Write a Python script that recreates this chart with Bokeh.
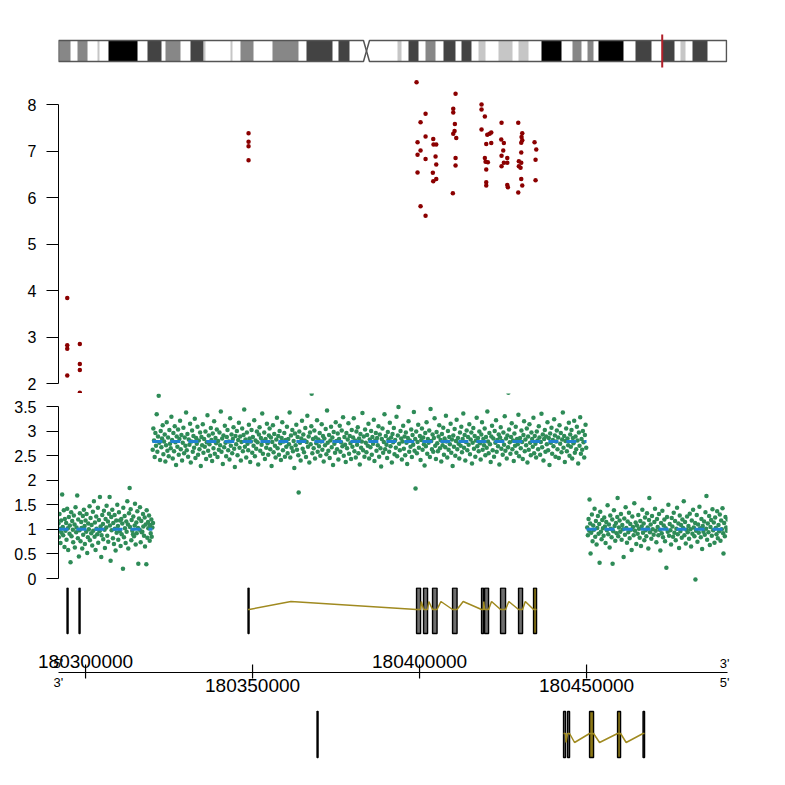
from bokeh.plotting import figure
from bokeh.layouts import column
from bokeh.models import Range1d, FixedTicker
from bokeh.core.properties import value
from bokeh.embed import file_html
from bokeh.resources import INLINE

# ====================== DATA ======================
# chr3 ideogram (Mb)
CHROM_LEN_MB = 199.6
CENTROMERE_MB = 92.03
band_start_mb = [0.0, 5.68, 11.65, 14.94, 26.59, 31.97, 39.44, 43.48, 51.39, 54.38, 63.94, 74.10, 83.66,
                 101.29, 104.58, 109.66, 115.04, 120.42, 125.50, 131.47, 137.45, 144.32, 153.58, 158.07,
                 161.35, 172.41, 180.48, 185.85, 189.44]
band_end_mb = [3.59, 8.67, 12.25, 23.61, 30.78, 36.45, 43.33, 43.92, 51.99, 58.27, 71.71, 81.87, 86.95,
               102.49, 107.57, 112.65, 118.62, 123.40, 127.59, 135.66, 140.44, 150.30, 156.27, 159.86,
               168.82, 177.19, 184.06, 187.35, 193.92]
band_stain = ["gpos50", "gpos50", "gpos25", "gpos100", "gpos75", "gpos50", "gpos75", "gpos25", "gpos25",
              "gpos50", "gpos50", "gpos75", "gpos75",
              "gpos25", "gpos75", "gpos50", "gpos75", "gpos75", "gpos25", "gpos25", "gpos25", "gpos100",
              "gpos50", "gpos50",
              "gpos100", "gpos75", "gpos75", "gpos25", "gpos75"]

REGION_START = 180291900
REGION_END = 180492200

# upper panel points (position bp, value)
red_points = [
    (180294520, 3.84), (180294520, 2.82), (180294520, 2.75), (180294520, 2.17),
    (180298290, 2.85), (180298290, 2.42), (180298290, 2.29), (180298290, 1.80),
    (180348800, 7.38), (180348800, 7.20), (180348800, 7.10), (180348800, 6.80),
    (180399100, 8.48), (180400300, 7.62), (180401800, 7.80), (180399400, 7.19), (180400300, 7.01),
    (180399400, 6.92), (180401800, 7.31), (180401800, 6.83), (180399400, 6.54), (180400300, 5.81),
    (180401800, 5.61),
    (180404100, 7.26), (180404190, 7.14), (180405000, 7.14), (180404790, 6.88), (180405000, 6.71),
    (180403980, 6.53), (180405000, 6.40), (180404100, 6.35),
    (180410780, 8.23), (180410090, 7.91), (180410090, 7.83), (180410570, 7.58), (180410480, 7.43),
    (180410090, 7.37), (180410990, 7.28), (180410780, 6.85), (180410780, 6.69), (180409970, 6.09),
    (180418560, 8.00), (180418560, 7.89), (180419550, 7.74), (180418560, 7.46), (180420270, 7.35),
    (180421470, 7.40), (180420960, 7.37), (180419970, 7.15), (180421470, 7.17), (180419550, 6.85),
    (180419760, 6.77), (180420450, 6.76), (180419970, 6.60), (180419970, 6.33), (180419970, 6.26),
    (180424550, 7.61), (180424460, 7.25), (180425240, 7.17), (180425060, 7.01), (180424550, 6.90),
    (180426260, 6.85), (180425240, 6.75), (180426260, 6.75), (180424550, 6.67), (180426260, 6.27),
    (180426440, 6.22),
    (180429550, 7.61), (180430750, 7.38), (180430540, 7.30), (180430750, 7.23), (180430450, 7.18),
    (180430450, 6.97), (180429730, 6.78), (180430450, 6.75), (180429730, 6.67), (180430240, 6.64),
    (180430450, 6.40), (180430750, 6.26), (180429550, 6.11),
    (180434430, 7.19), (180434940, 7.03), (180434730, 6.81), (180434730, 6.37),
]

# copy-number probes: (position in 100 bp above 180,290,000 ; value x 100)
PROBE_ORIGIN = 180290000
cn_seg1 = [
    (17,96),(19,112),(20,84),(22,131),(24,101),(25,72),(27,118),(28,93),(30,171),(32,105),
    (33,88),(35,139),(37,64),(38,121),(40,97),(42,113),(43,79),(45,142),(47,102),(48,58),
    (50,125),(52,91),(53,108),(55,33),(57,135),(58,86),(60,117),(62,99),(63,74),(65,128),
    (67,110),(68,63),(70,145),(72,94),(73,104),(75,169),(77,82),(78,120),(80,45),(82,98),
    (83,133),(85,76),(87,115),(88,103),(90,61),(92,127),(93,89),(95,140),(97,107),(98,70),
    (100,118),(102,95),(103,131),(105,52),(107,84),(108,112),(110,100),(112,147),(113,78),(115,123),
    (117,92),(118,109),(120,67),(122,136),(123,97),(125,157),(127,85),(128,114),(130,58),(132,126),
    (133,101),(135,90),(137,144),(138,73),(140,119),(142,96),(143,166),(145,106),(147,44),(148,88),
    (150,129),(152,111),(153,80),(155,138),(157,99),(158,62),(160,121),(162,104),(163,148),(165,87),
    (167,116),(168,75),(170,132),(172,166),(173,108),(175,36),(177,125),(178,98),(180,140),(182,82),
    (183,113),(185,70),(187,129),(188,101),(190,57),(192,118),(193,93),(195,150),(197,107),(198,79),
    (200,135),(202,96),(203,118),(205,66),(207,121),(208,90),(210,112),(212,20),(213,144),(215,84),
    (217,127),(218,102),(220,72),(222,116),(223,95),(225,157),(227,110),(228,61),(230,133),(232,184),
    (233,105),(235,141),(237,78),(238,119),(240,97),(242,90),(243,126),(245,86),(247,108),(248,152),
    (250,69),(252,114),(253,92),(255,137),(257,103),(258,30),(260,122),(262,99),(263,145),(265,74),
    (267,117),(268,94),(270,95),(272,131),(273,106),(275,87),(277,124),(278,65),(280,110),(282,29),
    (283,139),(285,83),(287,115),(288,102),(290,128),(292,77),(293,109),(295,92),(297,120),(298,85),
    (300,104),(302,113),
]
cn_seg2 = [
    (301,262),(303,305),(305,281),(307,247),(309,296),(311,270),(313,334),(315,258),(317,289),(319,372),(321,276),(323,241),(325,300),(327,267),(329,285),(331,312),(333,253),(335,279),(337,293),(339,238),(341,271),(343,318),(345,260),(347,287),(349,249),
    (351,302),(353,274),(355,265),(357,329),(359,282),(361,244),(363,296),(365,259),(367,310),(369,277),(371,231),(373,289),(375,268),(377,303),(379,252),(381,284),(383,321),(385,263),(387,292),(389,240),(391,276),(393,307),(395,255),(397,287),(399,270),
    (401,338),(403,261),(405,294),(407,248),(409,283),(411,272),(413,315),(415,236),(417,279),(419,301),(421,258),(423,290),(425,266),(427,325),(429,245),(431,286),(433,274),(435,309),(437,252),(439,281),(441,263),(443,297),(445,229),(447,288),(449,271),
    (451,314),(453,256),(455,284),(457,268),(459,299),(461,243),(463,277),(465,332),(467,260),(469,291),(471,273),(473,250),(475,306),(477,282),(479,239),(481,295),(483,265),(485,320),(487,254),(489,286),(491,275),(493,303),(495,247),(497,280),(499,262),
    (501,297),(503,271),(505,340),(507,258),(509,285),(511,233),(513,291),(515,267),(517,311),(519,276),(521,249),(523,288),(525,302),(527,261),(529,279),(531,242),(533,326),(535,270),(537,293),(539,255),(541,284),(543,308),(545,264),(547,227),(549,290),
    (551,273),(553,300),(555,251),(557,282),(559,317),(561,266),(563,289),(565,240),(567,278),(569,305),(571,259),(573,292),(575,344),(577,268),(579,283),(581,246),(583,297),(585,274),(587,261),(589,313),(591,285),(593,237),(595,279),(597,302),(599,256),
    (601,288),(603,270),(605,322),(607,249),(609,281),(611,264),(613,299),(615,277),(617,232),(619,293),(621,308),(623,260),(625,286),(627,272),(629,336),(631,254),(633,280),(635,297),(637,243),(639,284),(641,266),(643,315),(645,275),(647,252),(649,291),
    (651,305),(653,263),(655,287),(657,229),(659,278),(661,312),(663,257),(665,294),(667,270),(669,246),(671,283),(673,327),(675,265),(677,290),(679,252),(681,300),(683,275),(685,241),(687,286),(689,318),(691,261),(693,279),(695,296),(697,248),(699,282),
    (701,268),(703,309),(705,255),(707,284),(709,273),(711,338),(713,246),(715,291),(717,266),(719,302),(721,259),(723,280),(725,225),(727,295),(729,271),(731,313),(733,262),(735,288),(737,251),(738,175),(740,299),(742,276),(744,240),(746,285),(748,321),
    (750,264),(752,293),(754,257),(756,281),(758,306),(760,247),(762,278),(764,331),(766,268),(768,289),(770,236),(772,297),(774,273),(776,310),(777,376),(779,255),(781,284),(783,265),(785,301),(787,244),(789,287),(791,275),(793,322),(795,258),(797,283),(799,269),
    (801,296),(803,250),(805,279),(807,314),(809,262),(811,290),(813,238),(815,285),(817,271),(819,304),(821,253),(823,342),(825,276),(827,260),(829,292),(831,245),(833,281),(835,309),(837,267),(839,287),(841,231),(843,298),(845,274),(847,256),(849,318),
    (851,280),(853,263),(855,295),(857,242),(859,284),(861,311),(863,258),(865,277),(867,301),(869,269),(871,328),(873,250),(875,288),(877,272),(879,237),(881,296),(883,265),(885,283),(887,316),(889,254),(891,290),(893,275),(895,243),(897,302),(899,268),
    (901,287),(903,326),(905,259),(907,281),(909,246),(911,299),(913,272),(915,308),(917,255),(919,285),(921,232),(923,294),(925,266),(927,279),(929,337),(931,261),(933,289),(935,248),(937,303),(939,276),(941,257),(943,292),(945,270),(947,315),(949,244),
    (951,283),(953,267),(955,300),(957,252),(959,288),(961,274),(963,323),(965,239),(967,281),(969,296),(971,260),(973,286),(975,271),(977,310),(979,248),(981,293),(983,265),(985,228),(987,284),(989,305),(991,256),(993,278),(995,334),(997,263),(999,290),
    (1001,272),(1003,245),(1005,298),(1007,283),(1009,258),(1011,317),(1013,269),(1015,287),(1017,236),(1019,294),(1021,277),(1023,306),(1025,253),(1027,282),(1029,266),(1031,329),(1033,249),(1035,291),(1037,349),(1039,274),(1041,261),(1043,300),(1045,285),(1047,242),(1049,279),
    (1051,311),(1053,264),(1055,289),(1057,251),(1059,297),(1061,276),(1063,233),(1065,286),(1067,320),(1069,258),(1071,281),(1073,268),(1075,303),(1077,247),(1079,292),(1081,272),(1083,339),(1085,260),(1087,284),(1088,183),(1090,299),(1092,255),(1094,278),(1096,313),(1098,266),
    (1101,290),(1103,241),(1105,282),(1107,305),(1109,262),(1111,287),(1113,273),(1115,230),(1117,296),(1119,269),(1121,318),(1123,254),(1125,284),(1127,276),(1129,301),(1131,247),(1133,345),(1135,280),(1137,263),(1139,293),(1141,258),(1143,286),(1145,326),(1147,270),(1149,243),
    (1151,298),(1153,275),(1155,259),(1157,289),(1159,312),(1161,265),(1163,282),(1165,238),(1167,294),(1169,271),(1171,307),(1173,252),(1175,285),(1177,267),(1179,331),(1181,279),(1183,246),(1185,300),(1187,262),(1189,288),(1191,273),(1193,315),(1195,256),(1197,283),(1199,229),
    (1201,291),(1203,268),(1205,304),(1207,250),(1209,280),(1211,323),(1213,263),(1215,286),(1217,274),(1219,244),(1221,297),(1223,270),(1225,309),(1227,257),(1229,284),(1231,336),(1233,266),(1235,292),(1237,240),(1239,278),(1241,301),(1243,261),(1245,288),(1247,272),(1249,314),
    (1251,253),(1253,283),(1255,297),(1257,234),(1259,276),(1261,306),(1263,264),(1265,290),(1267,248),(1269,281),(1271,327),(1273,269),(1275,286),(1277,259),(1279,299),(1281,275),(1283,242),(1285,293),(1287,318),(1289,262),(1291,284),(1293,271),(1295,305),(1297,251),(1299,288),
    (1301,266),(1303,340),(1305,279),(1307,255),(1309,296),(1311,273),(1313,237),(1315,289),(1317,311),(1319,261),(1321,285),(1323,248),(1325,300),(1327,276),(1329,322),(1331,258),(1333,282),(1335,269),(1337,293),(1339,232),(1341,287),(1343,308),(1345,264),(1347,280),(1349,252),
    (1351,297),(1353,272),(1355,330),(1357,260),(1359,285),(1361,244),(1363,291),(1365,267),(1366,378),(1368,303),(1370,277),(1372,254),(1374,288),(1376,316),(1378,263),(1380,281),(1382,239),(1384,295),(1386,270),(1388,309),(1390,256),(1392,284),(1394,273),(1396,333),(1398,249),
    (1401,286),(1403,265),(1405,301),(1407,278),(1409,243),(1411,292),(1413,320),(1415,259),(1417,283),(1419,271),(1421,305),(1423,236),(1425,289),(1427,262),(1429,314),(1431,276),(1433,251),(1435,297),(1437,284),(1439,268),(1441,327),(1443,255),(1445,290),(1447,274),(1449,246),
    (1451,299),(1453,281),(1455,263),(1457,310),(1459,287),(1461,252),(1463,278),(1465,335),(1467,267),(1469,293),(1471,240),(1473,284),(1475,302),(1477,258),(1479,289),(1481,273),(1483,318),(1485,261),(1487,286),(1489,231),(1491,295),(1493,276),(1495,307),(1497,254),(1499,282),
    (1501,269),(1503,324),(1505,291),(1507,248),(1509,279),(1511,301),(1513,263),(1515,287),(1517,245),(1519,312),(1521,274),(1523,296),(1525,257),(1527,283),(1529,338),(1531,266),(1533,290),(1535,237),(1537,280),(1539,305),(1541,259),(1543,285),(1545,271),(1547,317),(1549,250),
    (1551,293),(1553,268),(1555,302),(1557,244),(1559,286),(1561,275),(1563,321),(1565,256),(1567,289),(1569,263),(1571,309),(1573,281),(1575,234),(1577,297),(1579,270),(1581,328),(1583,254),(1585,284),(1587,262),(1589,300),(1591,277),(1593,246),(1595,292),(1597,313),(1599,266),
]
cn_seg3 = [
    (1602,104),(1604,88),(1606,121),(1608,97),(1609,161),(1611,112),(1612,51),(1614,93),(1616,130),(1618,76),(1620,108),(1622,99),(1624,142),(1626,85),(1628,117),(1630,69),(1632,103),(1634,127),(1636,91),(1638,111),(1639,32),(1641,136),(1643,95),(1645,80),(1647,119),(1649,102),
    (1651,87),(1653,124),(1655,106),(1657,72),(1659,115),(1661,98),(1663,149),(1665,90),(1667,110),(1669,63),(1671,128),(1673,101),(1675,84),(1677,120),(1678,30),(1680,96),(1682,139),(1684,107),(1686,77),(1688,113),(1690,92),(1692,125),(1693,164),(1695,86),(1697,104),(1699,118),
    (1701,95),(1703,131),(1705,79),(1707,109),(1709,100),(1711,44),(1713,122),(1715,89),(1717,145),(1719,103),(1721,73),(1723,116),(1725,94),(1727,134),(1729,82),(1731,111),(1733,99),(1735,58),(1737,126),(1739,105),(1741,88),(1743,153),(1745,97),(1747,114),(1749,70),
    (1751,108),(1753,91),(1755,129),(1757,101),(1759,83),(1761,117),(1763,66),(1765,106),(1767,140),(1769,93),(1771,112),(1773,78),(1775,124),(1777,98),(1779,86),(1781,133),(1783,104),(1785,61),(1787,119),(1788,164),(1790,94),(1792,110),(1794,81),(1796,127),(1798,100),
    (1801,89),(1803,115),(1805,142),(1807,97),(1809,74),(1811,121),(1813,105),(1815,88),(1817,131),(1819,99),(1821,57),(1823,113),(1825,92),(1827,138),(1829,84),(1831,108),(1833,120),(1835,76),(1837,102),(1839,22),(1841,125),(1843,95),(1845,150),(1847,87),(1849,111),
    (1851,98),(1853,69),(1855,123),(1857,106),(1859,85),(1861,134),(1863,93),(1865,117),(1867,78),(1869,101),(1871,144),(1873,90),(1875,112),(1877,62),(1879,128),(1881,96),(1883,109),(1885,83),(1887,120),(1889,103),(1891,157),(1893,88),(1895,115),(1897,71),(1899,99),
    (1901,126),(1903,94),(1905,107),(1907,81),(1909,132),(1911,100),(1913,65),(1915,118),(1917,91),(1919,140),(1921,104),(1923,86),(1925,113),(1926,-2),(1928,97),(1930,129),(1932,75),(1934,110),(1936,93),(1938,146),(1940,102),(1942,84),(1944,121),(1946,60),(1948,107),(1950,95),
    (1952,116),(1954,89),(1956,135),(1958,101),(1959,168),(1961,79),(1963,112),(1965,94),(1967,127),(1969,68),(1971,105),(1973,119),(1975,87),(1977,141),(1979,98),(1981,114),(1983,73),(1985,124),(1987,103),(1989,90),(1991,137),(1993,82),(1995,109),(1997,96),(1999,130),
    (2001,77),(2003,118),(2005,100),(2007,143),(2009,92),(2010,51),(2012,113),(2014,86),(2016,125),(2018,104),(2020,97),(2022,120),
]

# segmented copy-number means
cn_seg_start = [180291900, 180320000, 180450000]
cn_seg_end = [180320000, 180450000, 180492200]
cn_seg_mean = [1.0, 2.79, 1.0]

# genes: exons (bp) on the + strand (upper track) and - strand (lower track)
plus_exon_start = [180294461, 180298054, 180348652, 180399101, 180401197, 180403892, 180409880,
                   180418562, 180419460, 180424251, 180429640, 180434131]
plus_exon_end = [180294760, 180298353, 180348952, 180400299, 180402395, 180405239, 180411227,
                 180419161, 180420658, 180425748, 180430838, 180435029]
plus_exon_gene = ["p1", "p2", "p3", "p3", "p3", "p3", "p3", "p3", "p3", "p3", "p3", "p3"]
plus_exon_part = ["cds", "cds", "cds", "cds", "cds", "cds", "cds", "cds", "cds", "cds", "cds", "utr"]
minus_exon_start = [180369311, 180443113, 180444311, 180450897, 180459281, 180466915]
minus_exon_end = [180369610, 180443712, 180444909, 180452095, 180460179, 180467364]
minus_exon_gene = ["m1", "m2", "m2", "m2", "m2", "m2"]
minus_exon_part = ["cds", "cds", "cds", "utr", "utr", "cds"]

red_ticks = [2, 3, 4, 5, 6, 7, 8]
cn_ticks = [0, 0.5, 1, 1.5, 2, 2.5, 3, 3.5]
cn_tick_labels = ["0", "0.5", "1", "1.5", "2", "2.5", "3", "3.5"]
pos_ticks = [180300000, 180350000, 180400000, 180450000]
pos_tick_labels = ["180300000", "180350000", "180400000", "180450000"]

# ====================== LAYOUT ======================
W = 769
BORDER_L, BORDER_R = 58, 42
FRAME_W = W - BORDER_L - BORDER_R
EDGES = [0, 72, 393, 587, 650, 698, 769]   # panel edges in page px
FONT = "Liberation Sans"
GREEN = "#2e8b57"
DARKRED = "#8b0000"
BLUE = "#2080d0"
OLIVE = "#a08a20"
PART_FILL = {"cds": "#6e6e6e", "utr": "#8c7816"}
STAIN_COLOR = {"gpos25": "#c6c6c6", "gpos50": "#878787", "gpos75": "#434343", "gpos100": "#000000"}


def frac(px, top, bot):
    return (bot - px) / (bot - top)


def range_from_px(v_a, px_a, v_b, px_b, top, bot):
    per_px = (v_b - v_a) / (px_a - px_b)
    return Range1d(v_a - (bot - px_a) * per_px, v_a + (px_a - top) * per_px)


def panel(i, x_range, y_range, left_axis=False, full=False):
    p = figure(width=W, height=EDGES[i + 1] - EDGES[i], x_range=x_range, y_range=y_range,
               output_backend="svg", toolbar_location=None,
               x_axis_location=None, y_axis_location="left" if left_axis else None,
               min_border=0, min_border_left=0 if full else BORDER_L,
               min_border_right=0 if full else BORDER_R)
    p.outline_line_color = None
    p.background_fill_color = "white"
    p.border_fill_color = "white"
    if full:
        p.frame_align = False
    for g in p.grid:
        g.visible = False
    return p


def style_yaxis(p, ticks):
    ax = p.yaxis[0]
    ax.ticker = FixedTicker(ticks=ticks)
    ax.bounds = (min(ticks), max(ticks))
    ax.axis_line_color = "black"
    ax.axis_line_width = 1
    ax.major_tick_line_color = "black"
    ax.major_tick_out = 12
    ax.major_tick_in = 0
    ax.minor_tick_line_color = None
    ax.major_label_standoff = 10
    ax.major_label_text_font = FONT
    ax.major_label_text_font_size = "16px"
    ax.major_label_text_color = "black"


region = Range1d(REGION_START, REGION_END)

# ---------- 1: ideogram ----------
T, B = EDGES[0], EDGES[1]
p1 = panel(0, Range1d(0, CHROM_LEN_MB * 1.0015), Range1d(0, 1))
top, bot = frac(40, T, B), frac(61, T, B)
mid = (top + bot) / 2
pinch = 0.9
parm_x = [0, CENTROMERE_MB - pinch, CENTROMERE_MB, CENTROMERE_MB - pinch, 0]
parm_y = [top, top, mid, bot, bot]
qarm_x = [CENTROMERE_MB + pinch, CHROM_LEN_MB, CHROM_LEN_MB, CENTROMERE_MB + pinch, CENTROMERE_MB]
qarm_y = [top, top, bot, bot, mid]
p1.patches([parm_x, qarm_x], [parm_y, qarm_y], fill_color="white", line_color=None)
p1.quad(left=band_start_mb, right=band_end_mb, bottom=bot, top=top,
        fill_color=[STAIN_COLOR[s] for s in band_stain], line_color=None)
p1.patches([parm_x, qarm_x], [parm_y, qarm_y], fill_color=None, line_color="#555555", line_width=1.5)
region_mid_mb = (REGION_START + REGION_END) / 2 / 1e6
p1.segment(x0=[region_mid_mb], y0=[frac(34, T, B)], x1=[region_mid_mb], y1=[frac(67, T, B)],
           line_color="#b0202a", line_width=2)

# ---------- 2: upper points ----------
T, B = EDGES[1], EDGES[2]
p2 = panel(1, region, range_from_px(2, 383, 8, 104, T, B), left_axis=True)
style_yaxis(p2, red_ticks)
p2.scatter([x for x, _ in red_points], [v for _, v in red_points], size=4.5, marker="circle",
           fill_color=DARKRED, line_color=None)

# ---------- 3: copy number ----------
T, B = EDGES[2], EDGES[3]
p3 = panel(2, region, range_from_px(0, 578, 3.5, 406, T, B), left_axis=True)
style_yaxis(p3, cn_ticks)
p3.yaxis[0].major_label_overrides = {t: lab for t, lab in zip(cn_ticks, cn_tick_labels)}
probes = cn_seg1 + cn_seg2 + cn_seg3
p3.scatter([PROBE_ORIGIN + 100 * x for x, _ in probes], [v / 100 for _, v in probes],
           size=4.5, marker="circle", fill_color=GREEN, line_color=None)
p3.segment(x0=cn_seg_start, y0=cn_seg_mean, x1=cn_seg_end, y1=cn_seg_mean,
           line_color=BLUE, line_width=3, line_dash="10 8")


# ---------- gene tracks ----------
def draw_genes(p, starts, ends, genes, parts, ex_top, ex_bot, mid_y, apex_y):
    order = []
    for g in genes:
        if g not in order:
            order.append(g)
    p.quad(left=starts, right=ends, top=ex_top, bottom=ex_bot,
           fill_color=[PART_FILL[k] for k in parts], line_color="black", line_width=1.4)
    xs_all, ys_all = [], []
    for g in order:
        idx = [i for i, gg in enumerate(genes) if gg == g]
        if len(idx) < 2:
            continue
        xs, ys = [], []
        for k, i in enumerate(idx):
            xs += [starts[i], ends[i]]
            ys += [mid_y, mid_y]
            if k + 1 < len(idx):
                j = idx[k + 1]
                xs.append(ends[i] + 0.25 * (starts[j] - ends[i]))
                ys.append(apex_y)
        xs_all.append(xs)
        ys_all.append(ys)
    p.multi_line(xs_all, ys_all, line_color=OLIVE, line_width=1.5)


T, B = EDGES[3], EDGES[4]
p4 = panel(3, region, Range1d(0, 1))
draw_genes(p4, plus_exon_start, plus_exon_end, plus_exon_gene, plus_exon_part,
           frac(587.5, T, B), frac(633, T, B), frac(609, T, B), frac(601, T, B))

# ---------- 5: genomic axis ----------
T, B = EDGES[4], EDGES[5]
bpp = (REGION_END - REGION_START) / FRAME_W
p5 = panel(4, Range1d(REGION_START - BORDER_L * bpp, REGION_END + BORDER_R * bpp), Range1d(0, 1), full=True)
axis_y = frac(672, T, B)
p5.segment(x0=[REGION_START], y0=[axis_y], x1=[REGION_END], y1=[axis_y], line_color="black", line_width=1.2)
p5.segment(x0=pos_ticks, y0=frac(664, T, B), x1=pos_ticks, y1=frac(678, T, B), line_color="black", line_width=1.2)
lab_y = [frac(660.5, T, B) if i % 2 == 0 else frac(684.5, T, B) for i in range(len(pos_ticks))]
p5.text(x=pos_ticks, y=lab_y, text=pos_tick_labels, text_font=value(FONT), text_font_size=value("19px"),
        text_align="center", text_baseline="middle", text_color="black")
up_y, dn_y = frac(663, T, B), frac(682, T, B)
p5.text(x=[REGION_START - 5 * bpp] * 2, y=[up_y, dn_y], text=["5'", "3'"], text_font=value(FONT),
        text_font_size=value("13px"), text_align="left", text_baseline="middle", text_color="black")
p5.text(x=[REGION_END + 2 * bpp] * 2, y=[up_y, dn_y], text=["3'", "5'"], text_font=value(FONT),
        text_font_size=value("13px"), text_align="right", text_baseline="middle", text_color="black")

# ---------- 6: minus strand genes ----------
T, B = EDGES[5], EDGES[6]
p6 = panel(5, region, Range1d(0, 1))
draw_genes(p6, minus_exon_start, minus_exon_end, minus_exon_gene, minus_exon_part,
           frac(711, T, B), frac(757, T, B), frac(733, T, B), frac(742, T, B))

layout = column(p1, p2, p3, p4, p5, p6, spacing=0)
open("out.html", "w").write(file_html(layout, INLINE))
